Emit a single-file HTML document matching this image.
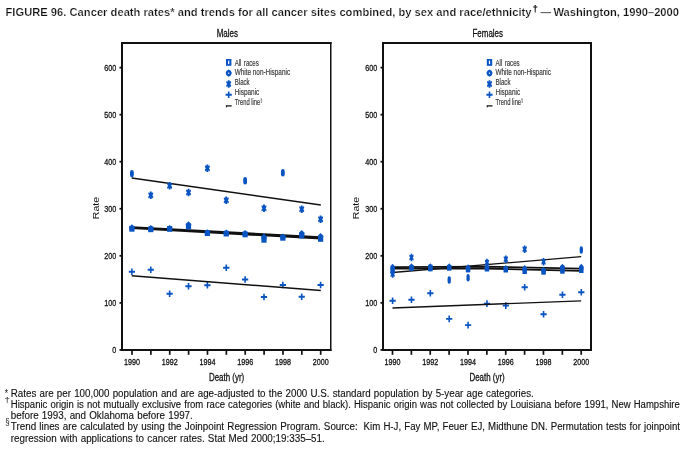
<!DOCTYPE html>
<html lang="en">
<head>
<meta charset="utf-8">
<title>FIGURE 96. Cancer death rates and trends for all cancer sites combined, by sex and race/ethnicity — Washington, 1990–2000</title>
<style>
html,body{margin:0;padding:0;background:#fff;}
body{width:688px;height:450px;overflow:hidden;}
svg{display:block;will-change:transform;}
text{white-space:pre;}
</style>
</head>
<body>
<svg width="688" height="450" viewBox="0 0 688 450" font-family="'Liberation Sans', sans-serif" fill="#111">
<rect width="688" height="450" fill="#fff"/>
<text x="5.5" y="16" font-size="11" font-weight="bold" stroke="#fff" stroke-width="0.22" textLength="526" lengthAdjust="spacingAndGlyphs">FIGURE 96. Cancer death rates* and trends for all cancer sites combined, by sex and race/ethnicity</text>
<text x="532.8" y="11.6" font-size="9" font-weight="bold" stroke="#111" stroke-width="0.2" textLength="5" lengthAdjust="spacingAndGlyphs">†</text>
<text x="540.5" y="16" font-size="11" font-weight="bold" stroke="#fff" stroke-width="0.22" textLength="10.6" lengthAdjust="spacingAndGlyphs">—</text>
<text x="553.4" y="16" font-size="11" font-weight="bold" stroke="#fff" stroke-width="0.22" textLength="125.6" lengthAdjust="spacingAndGlyphs">Washington, 1990–2000</text>
<text transform="translate(99.1 219.2) rotate(-90)" font-size="8.8" textLength="22.4" lengthAdjust="spacingAndGlyphs">Rate</text>
<text transform="translate(359.2 219.2) rotate(-90)" font-size="8.8" textLength="22.4" lengthAdjust="spacingAndGlyphs">Rate</text>
<polyline points="131.7,178 320.8,205" fill="none" stroke="#111" stroke-width="1.6"/>
<polyline points="131.7,227.3 320.8,237.2" fill="none" stroke="#111" stroke-width="2.0"/>
<polyline points="131.7,227.9 320.8,238.6" fill="none" stroke="#111" stroke-width="2.0"/>
<rect x="121" y="42" width="210.5" height="2" fill="#111"/>
<rect x="121" y="349" width="210.5" height="2" fill="#111"/>
<rect x="121" y="42" width="2" height="309" fill="#111"/>
<rect x="330" y="42" width="1.5" height="309" fill="#111"/>
<rect x="119.5" y="349" width="1.8" height="1.8" fill="#111"/>
<text x="116.2" y="353.3" font-size="9.7" text-anchor="end" stroke="#111" stroke-width="0.3" textLength="4" lengthAdjust="spacingAndGlyphs">0</text>
<rect x="119.5" y="301.95" width="1.8" height="1.8" fill="#111"/>
<text x="116.2" y="306.25" font-size="9.7" text-anchor="end" stroke="#111" stroke-width="0.3" textLength="12" lengthAdjust="spacingAndGlyphs">100</text>
<rect x="119.5" y="254.9" width="1.8" height="1.8" fill="#111"/>
<text x="116.2" y="259.2" font-size="9.7" text-anchor="end" stroke="#111" stroke-width="0.3" textLength="12" lengthAdjust="spacingAndGlyphs">200</text>
<rect x="119.5" y="207.85" width="1.8" height="1.8" fill="#111"/>
<text x="116.2" y="212.15" font-size="9.7" text-anchor="end" stroke="#111" stroke-width="0.3" textLength="12" lengthAdjust="spacingAndGlyphs">300</text>
<rect x="119.5" y="160.8" width="1.8" height="1.8" fill="#111"/>
<text x="116.2" y="165.1" font-size="9.7" text-anchor="end" stroke="#111" stroke-width="0.3" textLength="12" lengthAdjust="spacingAndGlyphs">400</text>
<rect x="119.5" y="113.75" width="1.8" height="1.8" fill="#111"/>
<text x="116.2" y="118.05" font-size="9.7" text-anchor="end" stroke="#111" stroke-width="0.3" textLength="12" lengthAdjust="spacingAndGlyphs">500</text>
<rect x="119.5" y="66.7" width="1.8" height="1.8" fill="#111"/>
<text x="116.2" y="71" font-size="9.7" text-anchor="end" stroke="#111" stroke-width="0.3" textLength="12" lengthAdjust="spacingAndGlyphs">600</text>
<rect x="131.15" y="351" width="1.7" height="3.8" fill="#111"/>
<text x="132" y="365" font-size="9.8" text-anchor="middle" stroke="#111" stroke-width="0.32" textLength="15.9" lengthAdjust="spacingAndGlyphs">1990</text>
<rect x="150.02" y="351" width="1.7" height="3.8" fill="#111"/>
<rect x="168.89" y="351" width="1.7" height="3.8" fill="#111"/>
<text x="169.74" y="365" font-size="9.8" text-anchor="middle" stroke="#111" stroke-width="0.32" textLength="15.9" lengthAdjust="spacingAndGlyphs">1992</text>
<rect x="187.76" y="351" width="1.7" height="3.8" fill="#111"/>
<rect x="206.63" y="351" width="1.7" height="3.8" fill="#111"/>
<text x="207.48" y="365" font-size="9.8" text-anchor="middle" stroke="#111" stroke-width="0.32" textLength="15.9" lengthAdjust="spacingAndGlyphs">1994</text>
<rect x="225.5" y="351" width="1.7" height="3.8" fill="#111"/>
<rect x="244.37" y="351" width="1.7" height="3.8" fill="#111"/>
<text x="245.22" y="365" font-size="9.8" text-anchor="middle" stroke="#111" stroke-width="0.32" textLength="15.9" lengthAdjust="spacingAndGlyphs">1996</text>
<rect x="263.24" y="351" width="1.7" height="3.8" fill="#111"/>
<rect x="282.11" y="351" width="1.7" height="3.8" fill="#111"/>
<text x="282.96" y="365" font-size="9.8" text-anchor="middle" stroke="#111" stroke-width="0.32" textLength="15.9" lengthAdjust="spacingAndGlyphs">1998</text>
<rect x="300.98" y="351" width="1.7" height="3.8" fill="#111"/>
<rect x="319.85" y="351" width="1.7" height="3.8" fill="#111"/>
<text x="320.7" y="365" font-size="9.8" text-anchor="middle" stroke="#111" stroke-width="0.32" textLength="15.9" lengthAdjust="spacingAndGlyphs">2000</text>
<text x="216.7" y="37" font-size="11" stroke="#111" stroke-width="0.3" textLength="21.3" lengthAdjust="spacingAndGlyphs">Males</text>
<text x="208.95" y="381" font-size="11" stroke="#111" stroke-width="0.3" textLength="35.3" lengthAdjust="spacingAndGlyphs">Death (yr)</text>
<rect x="226" y="59" width="5.4" height="6.8" fill="#0a54c2"/>
<rect x="228.1" y="60.6" width="1.2" height="3.5" fill="#fff"/>
<path d="M228.7 69.4L230.8 70.7L231.8 73.1L230.8 75.5L228.7 76.8L226.6 75.5L225.6 73.1L226.6 70.7Z" fill="#0a54c2"/>
<rect x="228.15" y="72.6" width="1.1" height="1.2" fill="#fff"/>
<path d="M227.8 80.3L229.6 80.3L229.8 81.7L231 80.9L231.2 82.7L230.2 84L231.2 85.3L231 87.1L229.8 86.3L229.6 87.7L227.8 87.7L227.6 86.3L226.4 87.1L226.2 85.3L227.2 84L226.2 82.7L226.4 80.9L227.6 81.7Z" fill="#0a54c2"/>
<path d="M225.6 93.75h6.2v1.9h-6.2zM227.9 91.4h1.6v6.6h-1.6z" fill="#0a54c2"/>
<path d="M225.9 105.3h5.8v1.3h-4.6v0.6h-1.2z" fill="#111"/>
<text x="234.7" y="65.6" font-size="9" fill="#383838" stroke="#383838" stroke-width="0.18" textLength="24.1" lengthAdjust="spacingAndGlyphs" word-spacing="1">All races</text>
<text x="234.7" y="75.1" font-size="9" fill="#383838" stroke="#383838" stroke-width="0.18" textLength="55.4" lengthAdjust="spacingAndGlyphs">White non-Hispanic</text>
<text x="234.7" y="84.8" font-size="9" fill="#383838" stroke="#383838" stroke-width="0.18" textLength="15" lengthAdjust="spacingAndGlyphs">Black</text>
<text x="234.7" y="94.8" font-size="9" fill="#383838" stroke="#383838" stroke-width="0.18" textLength="24.6" lengthAdjust="spacingAndGlyphs">Hispanic</text>
<text x="234.7" y="104.7" font-size="9" fill="#383838" stroke="#383838" stroke-width="0.18" textLength="25.6" lengthAdjust="spacingAndGlyphs">Trend line</text>
<text x="260.4" y="101.6" font-size="5" fill="#383838" textLength="1.8" lengthAdjust="spacingAndGlyphs">§</text>
<rect x="129.3" y="225.9" width="5.2" height="5.8" fill="#0a54c2"/>
<rect x="148.17" y="226.4" width="5.2" height="5.8" fill="#0a54c2"/>
<rect x="167.04" y="226" width="5.2" height="5.8" fill="#0a54c2"/>
<rect x="185.91" y="223.7" width="5.2" height="5.8" fill="#0a54c2"/>
<rect x="204.78" y="230.2" width="5.2" height="5.8" fill="#0a54c2"/>
<rect x="223.65" y="230.7" width="5.2" height="5.8" fill="#0a54c2"/>
<rect x="242.52" y="231.5" width="5.2" height="5.8" fill="#0a54c2"/>
<rect x="261.39" y="236.9" width="5.2" height="5.8" fill="#0a54c2"/>
<rect x="280.26" y="234.9" width="5.2" height="5.8" fill="#0a54c2"/>
<rect x="299.13" y="232.7" width="5.2" height="5.8" fill="#0a54c2"/>
<rect x="318" y="236" width="5.2" height="5.8" fill="#0a54c2"/>
<path d="M131.9 224.3L134.7 227.1L134.2 230.2L129.6 230.2L129.1 227.1Z" fill="#0a54c2"/>
<path d="M150.77 225L153.57 227.8L153.07 230.9L148.47 230.9L147.97 227.8Z" fill="#0a54c2"/>
<path d="M169.64 225L172.44 227.8L171.94 230.9L167.34 230.9L166.84 227.8Z" fill="#0a54c2"/>
<path d="M188.51 221.2L191.31 224L190.81 227.1L186.21 227.1L185.71 224Z" fill="#0a54c2"/>
<path d="M207.38 229.3L210.18 232.1L209.68 235.2L205.08 235.2L204.58 232.1Z" fill="#0a54c2"/>
<path d="M226.25 229.5L229.05 232.3L228.55 235.4L223.95 235.4L223.45 232.3Z" fill="#0a54c2"/>
<path d="M245.12 229.9L247.92 232.7L247.42 235.8L242.82 235.8L242.32 232.7Z" fill="#0a54c2"/>
<path d="M263.99 233.6L266.79 236.4L266.29 239.5L261.69 239.5L261.19 236.4Z" fill="#0a54c2"/>
<path d="M282.86 233.4L285.66 236.2L285.16 239.3L280.56 239.3L280.06 236.2Z" fill="#0a54c2"/>
<path d="M301.73 229.9L304.53 232.7L304.03 235.8L299.43 235.8L298.93 232.7Z" fill="#0a54c2"/>
<path d="M320.6 233L323.4 235.8L322.9 238.9L318.3 238.9L317.8 235.8Z" fill="#0a54c2"/>
<path d="M149.87 191.6L151.67 191.6L151.87 193L153.07 192.2L153.27 194L152.27 195.3L153.27 196.6L153.07 198.4L151.87 197.6L151.67 199L149.87 199L149.67 197.6L148.47 198.4L148.27 196.6L149.27 195.3L148.27 194L148.47 192.2L149.67 193Z" fill="#0a54c2"/>
<path d="M168.74 182.1L170.54 182.1L170.74 183.5L171.94 182.7L172.14 184.5L171.14 185.8L172.14 187.1L171.94 188.9L170.74 188.1L170.54 189.5L168.74 189.5L168.54 188.1L167.34 188.9L167.14 187.1L168.14 185.8L167.14 184.5L167.34 182.7L168.54 183.5Z" fill="#0a54c2"/>
<path d="M187.61 188.8L189.41 188.8L189.61 190.2L190.81 189.4L191.01 191.2L190.01 192.5L191.01 193.8L190.81 195.6L189.61 194.8L189.41 196.2L187.61 196.2L187.41 194.8L186.21 195.6L186.01 193.8L187.01 192.5L186.01 191.2L186.21 189.4L187.41 190.2Z" fill="#0a54c2"/>
<path d="M206.48 164.6L208.28 164.6L208.48 166L209.68 165.2L209.88 167L208.88 168.3L209.88 169.6L209.68 171.4L208.48 170.6L208.28 172L206.48 172L206.28 170.6L205.08 171.4L204.88 169.6L205.88 168.3L204.88 167L205.08 165.2L206.28 166Z" fill="#0a54c2"/>
<path d="M225.35 196.6L227.15 196.6L227.35 198L228.55 197.2L228.75 199L227.75 200.3L228.75 201.6L228.55 203.4L227.35 202.6L227.15 204L225.35 204L225.15 202.6L223.95 203.4L223.75 201.6L224.75 200.3L223.75 199L223.95 197.2L225.15 198Z" fill="#0a54c2"/>
<path d="M263.09 204.6L264.89 204.6L265.09 206L266.29 205.2L266.49 207L265.49 208.3L266.49 209.6L266.29 211.4L265.09 210.6L264.89 212L263.09 212L262.89 210.6L261.69 211.4L261.49 209.6L262.49 208.3L261.49 207L261.69 205.2L262.89 206Z" fill="#0a54c2"/>
<path d="M300.83 205.5L302.63 205.5L302.83 206.9L304.03 206.1L304.23 207.9L303.23 209.2L304.23 210.5L304.03 212.3L302.83 211.5L302.63 212.9L300.83 212.9L300.63 211.5L299.43 212.3L299.23 210.5L300.23 209.2L299.23 207.9L299.43 206.1L300.63 206.9Z" fill="#0a54c2"/>
<path d="M319.7 215.6L321.5 215.6L321.7 217L322.9 216.2L323.1 218L322.1 219.3L323.1 220.6L322.9 222.4L321.7 221.6L321.5 223L319.7 223L319.5 221.6L318.3 222.4L318.1 220.6L319.1 219.3L318.1 218L318.3 216.2L319.5 217Z" fill="#0a54c2"/>
<rect x="130" y="169.9" width="3.8" height="7.6" rx="1.9" ry="2.4" fill="#0a54c2"/>
<rect x="243.22" y="177" width="3.8" height="7.6" rx="1.9" ry="2.4" fill="#0a54c2"/>
<rect x="280.96" y="169" width="3.8" height="7.6" rx="1.9" ry="2.4" fill="#0a54c2"/>
<path d="M128.8 270.75h6.2v1.9h-6.2zM131.1 268.4h1.6v6.6h-1.6z" fill="#0a54c2"/>
<path d="M147.67 268.75h6.2v1.9h-6.2zM149.97 266.4h1.6v6.6h-1.6z" fill="#0a54c2"/>
<path d="M166.54 292.75h6.2v1.9h-6.2zM168.84 290.4h1.6v6.6h-1.6z" fill="#0a54c2"/>
<path d="M185.41 285.25h6.2v1.9h-6.2zM187.71 282.9h1.6v6.6h-1.6z" fill="#0a54c2"/>
<path d="M204.28 284.35h6.2v1.9h-6.2zM206.58 282h1.6v6.6h-1.6z" fill="#0a54c2"/>
<path d="M223.15 266.85h6.2v1.9h-6.2zM225.45 264.5h1.6v6.6h-1.6z" fill="#0a54c2"/>
<path d="M242.02 278.55h6.2v1.9h-6.2zM244.32 276.2h1.6v6.6h-1.6z" fill="#0a54c2"/>
<path d="M260.89 296.05h6.2v1.9h-6.2zM263.19 293.7h1.6v6.6h-1.6z" fill="#0a54c2"/>
<path d="M279.76 284.05h6.2v1.9h-6.2zM282.06 281.7h1.6v6.6h-1.6z" fill="#0a54c2"/>
<path d="M298.63 295.75h6.2v1.9h-6.2zM300.93 293.4h1.6v6.6h-1.6z" fill="#0a54c2"/>
<path d="M317.5 284.05h6.2v1.9h-6.2zM319.8 281.7h1.6v6.6h-1.6z" fill="#0a54c2"/>
<polyline points="131.7,275.8 320.8,290.5" fill="none" stroke="#111" stroke-width="1.5"/>
<polyline points="392.5,272.5 581.2,256.7" fill="none" stroke="#111" stroke-width="1.35"/>
<polyline points="392.5,267.2 486,266.7 581.2,268.6" fill="none" stroke="#111" stroke-width="1.8"/>
<polyline points="392.5,268.7 486,268.5 581.2,270.8" fill="none" stroke="#111" stroke-width="1.8"/>
<rect x="382" y="42" width="210" height="2" fill="#111"/>
<rect x="382" y="349" width="210" height="2" fill="#111"/>
<rect x="382" y="42" width="2" height="309" fill="#111"/>
<rect x="590" y="42" width="2" height="309" fill="#111"/>
<rect x="380.5" y="349" width="1.8" height="1.8" fill="#111"/>
<text x="377.2" y="353.3" font-size="9.7" text-anchor="end" stroke="#111" stroke-width="0.3" textLength="4" lengthAdjust="spacingAndGlyphs">0</text>
<rect x="380.5" y="301.95" width="1.8" height="1.8" fill="#111"/>
<text x="377.2" y="306.25" font-size="9.7" text-anchor="end" stroke="#111" stroke-width="0.3" textLength="12" lengthAdjust="spacingAndGlyphs">100</text>
<rect x="380.5" y="254.9" width="1.8" height="1.8" fill="#111"/>
<text x="377.2" y="259.2" font-size="9.7" text-anchor="end" stroke="#111" stroke-width="0.3" textLength="12" lengthAdjust="spacingAndGlyphs">200</text>
<rect x="380.5" y="207.85" width="1.8" height="1.8" fill="#111"/>
<text x="377.2" y="212.15" font-size="9.7" text-anchor="end" stroke="#111" stroke-width="0.3" textLength="12" lengthAdjust="spacingAndGlyphs">300</text>
<rect x="380.5" y="160.8" width="1.8" height="1.8" fill="#111"/>
<text x="377.2" y="165.1" font-size="9.7" text-anchor="end" stroke="#111" stroke-width="0.3" textLength="12" lengthAdjust="spacingAndGlyphs">400</text>
<rect x="380.5" y="113.75" width="1.8" height="1.8" fill="#111"/>
<text x="377.2" y="118.05" font-size="9.7" text-anchor="end" stroke="#111" stroke-width="0.3" textLength="12" lengthAdjust="spacingAndGlyphs">500</text>
<rect x="380.5" y="66.7" width="1.8" height="1.8" fill="#111"/>
<text x="377.2" y="71" font-size="9.7" text-anchor="end" stroke="#111" stroke-width="0.3" textLength="12" lengthAdjust="spacingAndGlyphs">600</text>
<rect x="391.65" y="351" width="1.7" height="3.8" fill="#111"/>
<text x="392.5" y="365" font-size="9.8" text-anchor="middle" stroke="#111" stroke-width="0.32" textLength="15.9" lengthAdjust="spacingAndGlyphs">1990</text>
<rect x="410.52" y="351" width="1.7" height="3.8" fill="#111"/>
<rect x="429.39" y="351" width="1.7" height="3.8" fill="#111"/>
<text x="430.24" y="365" font-size="9.8" text-anchor="middle" stroke="#111" stroke-width="0.32" textLength="15.9" lengthAdjust="spacingAndGlyphs">1992</text>
<rect x="448.26" y="351" width="1.7" height="3.8" fill="#111"/>
<rect x="467.13" y="351" width="1.7" height="3.8" fill="#111"/>
<text x="467.98" y="365" font-size="9.8" text-anchor="middle" stroke="#111" stroke-width="0.32" textLength="15.9" lengthAdjust="spacingAndGlyphs">1994</text>
<rect x="486" y="351" width="1.7" height="3.8" fill="#111"/>
<rect x="504.87" y="351" width="1.7" height="3.8" fill="#111"/>
<text x="505.72" y="365" font-size="9.8" text-anchor="middle" stroke="#111" stroke-width="0.32" textLength="15.9" lengthAdjust="spacingAndGlyphs">1996</text>
<rect x="523.74" y="351" width="1.7" height="3.8" fill="#111"/>
<rect x="542.61" y="351" width="1.7" height="3.8" fill="#111"/>
<text x="543.46" y="365" font-size="9.8" text-anchor="middle" stroke="#111" stroke-width="0.32" textLength="15.9" lengthAdjust="spacingAndGlyphs">1998</text>
<rect x="561.48" y="351" width="1.7" height="3.8" fill="#111"/>
<rect x="580.35" y="351" width="1.7" height="3.8" fill="#111"/>
<text x="581.2" y="365" font-size="9.8" text-anchor="middle" stroke="#111" stroke-width="0.32" textLength="15.9" lengthAdjust="spacingAndGlyphs">2000</text>
<text x="472.5" y="37" font-size="11" stroke="#111" stroke-width="0.3" textLength="30.5" lengthAdjust="spacingAndGlyphs">Females</text>
<text x="469.45" y="381" font-size="11" stroke="#111" stroke-width="0.3" textLength="35.3" lengthAdjust="spacingAndGlyphs">Death (yr)</text>
<rect x="486.8" y="59" width="5.4" height="6.8" fill="#0a54c2"/>
<rect x="488.9" y="60.6" width="1.2" height="3.5" fill="#fff"/>
<path d="M489.5 69.4L491.6 70.7L492.6 73.1L491.6 75.5L489.5 76.8L487.4 75.5L486.4 73.1L487.4 70.7Z" fill="#0a54c2"/>
<rect x="488.95" y="72.6" width="1.1" height="1.2" fill="#fff"/>
<path d="M488.6 80.3L490.4 80.3L490.6 81.7L491.8 80.9L492 82.7L491 84L492 85.3L491.8 87.1L490.6 86.3L490.4 87.7L488.6 87.7L488.4 86.3L487.2 87.1L487 85.3L488 84L487 82.7L487.2 80.9L488.4 81.7Z" fill="#0a54c2"/>
<path d="M486.4 93.75h6.2v1.9h-6.2zM488.7 91.4h1.6v6.6h-1.6z" fill="#0a54c2"/>
<path d="M486.7 105.3h5.8v1.3h-4.6v0.6h-1.2z" fill="#111"/>
<text x="495.5" y="65.6" font-size="9" fill="#383838" stroke="#383838" stroke-width="0.18" textLength="24.1" lengthAdjust="spacingAndGlyphs" word-spacing="1">All races</text>
<text x="495.5" y="75.1" font-size="9" fill="#383838" stroke="#383838" stroke-width="0.18" textLength="55.4" lengthAdjust="spacingAndGlyphs">White non-Hispanic</text>
<text x="495.5" y="84.8" font-size="9" fill="#383838" stroke="#383838" stroke-width="0.18" textLength="15" lengthAdjust="spacingAndGlyphs">Black</text>
<text x="495.5" y="94.8" font-size="9" fill="#383838" stroke="#383838" stroke-width="0.18" textLength="24.6" lengthAdjust="spacingAndGlyphs">Hispanic</text>
<text x="495.5" y="104.7" font-size="9" fill="#383838" stroke="#383838" stroke-width="0.18" textLength="25.6" lengthAdjust="spacingAndGlyphs">Trend line</text>
<text x="521.2" y="101.6" font-size="5" fill="#383838" textLength="1.8" lengthAdjust="spacingAndGlyphs">§</text>
<path d="M391.83 270.3L393.37 270.3L393.55 271.7L394.58 270.9L394.75 272.7L393.89 274L394.75 275.3L394.58 277.1L393.55 276.3L393.37 277.7L391.83 277.7L391.65 276.3L390.62 277.1L390.45 275.3L391.31 274L390.45 272.7L390.62 270.9L391.65 271.7Z" fill="#0a54c2"/>
<path d="M410.7 253.8L412.24 253.8L412.42 255.2L413.45 254.4L413.62 256.2L412.76 257.5L413.62 258.8L413.45 260.6L412.42 259.8L412.24 261.2L410.7 261.2L410.52 259.8L409.49 260.6L409.32 258.8L410.18 257.5L409.32 256.2L409.49 254.4L410.52 255.2Z" fill="#0a54c2"/>
<path d="M429.57 263.9L431.11 263.9L431.29 265.3L432.32 264.5L432.49 266.3L431.63 267.6L432.49 268.9L432.32 270.7L431.29 269.9L431.11 271.3L429.57 271.3L429.39 269.9L428.36 270.7L428.19 268.9L429.05 267.6L428.19 266.3L428.36 264.5L429.39 265.3Z" fill="#0a54c2"/>
<path d="M486.18 258.8L487.72 258.8L487.9 260.2L488.93 259.4L489.1 261.2L488.24 262.5L489.1 263.8L488.93 265.6L487.9 264.8L487.72 266.2L486.18 266.2L486 264.8L484.97 265.6L484.8 263.8L485.66 262.5L484.8 261.2L484.97 259.4L486 260.2Z" fill="#0a54c2"/>
<path d="M505.05 255.5L506.59 255.5L506.77 256.9L507.8 256.1L507.97 257.9L507.11 259.2L507.97 260.5L507.8 262.3L506.77 261.5L506.59 262.9L505.05 262.9L504.87 261.5L503.84 262.3L503.67 260.5L504.53 259.2L503.67 257.9L503.84 256.1L504.87 256.9Z" fill="#0a54c2"/>
<path d="M523.92 245.5L525.46 245.5L525.64 246.9L526.67 246.1L526.84 247.9L525.98 249.2L526.84 250.5L526.67 252.3L525.64 251.5L525.46 252.9L523.92 252.9L523.74 251.5L522.71 252.3L522.54 250.5L523.4 249.2L522.54 247.9L522.71 246.1L523.74 246.9Z" fill="#0a54c2"/>
<path d="M542.79 258L544.33 258L544.51 259.4L545.54 258.6L545.71 260.4L544.85 261.7L545.71 263L545.54 264.8L544.51 264L544.33 265.4L542.79 265.4L542.61 264L541.58 264.8L541.41 263L542.27 261.7L541.41 260.4L541.58 258.6L542.61 259.4Z" fill="#0a54c2"/>
<path d="M561.66 264.9L563.2 264.9L563.38 266.3L564.41 265.5L564.58 267.3L563.72 268.6L564.58 269.9L564.41 271.7L563.38 270.9L563.2 272.3L561.66 272.3L561.48 270.9L560.45 271.7L560.28 269.9L561.14 268.6L560.28 267.3L560.45 265.5L561.48 266.3Z" fill="#0a54c2"/>
<rect x="447.58" y="276.2" width="3.27" height="7.6" rx="1.63" ry="2.4" fill="#0a54c2"/>
<rect x="466.45" y="274" width="3.27" height="7.6" rx="1.63" ry="2.4" fill="#0a54c2"/>
<rect x="579.67" y="246.2" width="3.27" height="7.6" rx="1.63" ry="2.4" fill="#0a54c2"/>
<rect x="390.36" y="267.9" width="4.47" height="5.8" fill="#0a54c2"/>
<rect x="409.23" y="265.1" width="4.47" height="5.8" fill="#0a54c2"/>
<rect x="428.1" y="265.5" width="4.47" height="5.8" fill="#0a54c2"/>
<rect x="446.97" y="264.9" width="4.47" height="5.8" fill="#0a54c2"/>
<rect x="465.84" y="266.6" width="4.47" height="5.8" fill="#0a54c2"/>
<rect x="484.71" y="265.7" width="4.47" height="5.8" fill="#0a54c2"/>
<rect x="503.58" y="266.7" width="4.47" height="5.8" fill="#0a54c2"/>
<rect x="522.45" y="268.2" width="4.47" height="5.8" fill="#0a54c2"/>
<rect x="541.32" y="268.9" width="4.47" height="5.8" fill="#0a54c2"/>
<rect x="560.19" y="267.9" width="4.47" height="5.8" fill="#0a54c2"/>
<rect x="579.06" y="267.2" width="4.47" height="5.8" fill="#0a54c2"/>
<path d="M392.6 263.7L395.01 266.5L394.58 269.6L390.62 269.6L390.19 266.5Z" fill="#0a54c2"/>
<path d="M411.47 263.3L413.88 266.1L413.45 269.2L409.49 269.2L409.06 266.1Z" fill="#0a54c2"/>
<path d="M430.34 263.3L432.75 266.1L432.32 269.2L428.36 269.2L427.93 266.1Z" fill="#0a54c2"/>
<path d="M449.21 263.2L451.62 266L451.19 269.1L447.23 269.1L446.8 266Z" fill="#0a54c2"/>
<path d="M468.08 264.2L470.49 267L470.06 270.1L466.1 270.1L465.67 267Z" fill="#0a54c2"/>
<path d="M486.95 264L489.36 266.8L488.93 269.9L484.97 269.9L484.54 266.8Z" fill="#0a54c2"/>
<path d="M505.82 265L508.23 267.8L507.8 270.9L503.84 270.9L503.41 267.8Z" fill="#0a54c2"/>
<path d="M524.69 265L527.1 267.8L526.67 270.9L522.71 270.9L522.28 267.8Z" fill="#0a54c2"/>
<path d="M543.56 266.7L545.97 269.5L545.54 272.6L541.58 272.6L541.15 269.5Z" fill="#0a54c2"/>
<path d="M562.43 263.8L564.84 266.6L564.41 269.7L560.45 269.7L560.02 266.6Z" fill="#0a54c2"/>
<path d="M581.3 263.8L583.71 266.6L583.28 269.7L579.32 269.7L578.89 266.6Z" fill="#0a54c2"/>
<path d="M389.5 299.85h6.2v1.9h-6.2zM391.8 297.5h1.6v6.6h-1.6z" fill="#0a54c2"/>
<path d="M408.37 298.75h6.2v1.9h-6.2zM410.67 296.4h1.6v6.6h-1.6z" fill="#0a54c2"/>
<path d="M427.24 292.35h6.2v1.9h-6.2zM429.54 290h1.6v6.6h-1.6z" fill="#0a54c2"/>
<path d="M446.11 317.95h6.2v1.9h-6.2zM448.41 315.6h1.6v6.6h-1.6z" fill="#0a54c2"/>
<path d="M464.98 324.15h6.2v1.9h-6.2zM467.28 321.8h1.6v6.6h-1.6z" fill="#0a54c2"/>
<path d="M483.85 302.65h6.2v1.9h-6.2zM486.15 300.3h1.6v6.6h-1.6z" fill="#0a54c2"/>
<path d="M502.72 304.65h6.2v1.9h-6.2zM505.02 302.3h1.6v6.6h-1.6z" fill="#0a54c2"/>
<path d="M521.59 286.25h6.2v1.9h-6.2zM523.89 283.9h1.6v6.6h-1.6z" fill="#0a54c2"/>
<path d="M540.46 313.25h6.2v1.9h-6.2zM542.76 310.9h1.6v6.6h-1.6z" fill="#0a54c2"/>
<path d="M559.33 293.75h6.2v1.9h-6.2zM561.63 291.4h1.6v6.6h-1.6z" fill="#0a54c2"/>
<path d="M578.2 291.25h6.2v1.9h-6.2zM580.5 288.9h1.6v6.6h-1.6z" fill="#0a54c2"/>
<polyline points="392.5,308 581.2,300.8" fill="none" stroke="#111" stroke-width="1.35"/>
<text x="4.8" y="397" font-size="10" textLength="3.3" lengthAdjust="spacingAndGlyphs">*</text>
<text x="4.6" y="401.6" font-size="7" textLength="5.4" lengthAdjust="spacingAndGlyphs">†</text>
<text x="5.2" y="425.2" font-size="8.5" textLength="4.4" lengthAdjust="spacingAndGlyphs">§</text>
<text x="10.8" y="397.3" font-size="10" stroke="#111" stroke-width="0.12" textLength="523" lengthAdjust="spacingAndGlyphs" word-spacing="0.5">Rates are per 100,000 population and are age-adjusted to the 2000 U.S. standard population by 5-year age categories.</text>
<text x="10.8" y="408" font-size="10" stroke="#111" stroke-width="0.12" textLength="669" lengthAdjust="spacingAndGlyphs" word-spacing="0.5">Hispanic origin is not mutually exclusive from race categories (white and black). Hispanic origin was not collected by Louisiana before 1991, New Hampshire</text>
<text x="10.8" y="418.7" font-size="10" stroke="#111" stroke-width="0.12" textLength="182" lengthAdjust="spacingAndGlyphs" word-spacing="0.5">before 1993, and Oklahoma before 1997.</text>
<text x="10.8" y="430.1" font-size="10" stroke="#111" stroke-width="0.12" textLength="346.9" lengthAdjust="spacingAndGlyphs" word-spacing="0.5">Trend lines are calculated by using the Joinpoint Regression Program. Source:</text>
<text x="363.6" y="430.1" font-size="10" stroke="#111" stroke-width="0.12" textLength="316.4" lengthAdjust="spacingAndGlyphs" word-spacing="0.5">Kim H-J, Fay MP, Feuer EJ, Midthune DN. Permutation tests for joinpoint</text>
<text x="10.8" y="441.9" font-size="10" stroke="#111" stroke-width="0.12" textLength="314" lengthAdjust="spacingAndGlyphs" word-spacing="0.5">regression with applications to cancer rates. Stat Med 2000;19:335–51.</text>
</svg>
</body>
</html>
